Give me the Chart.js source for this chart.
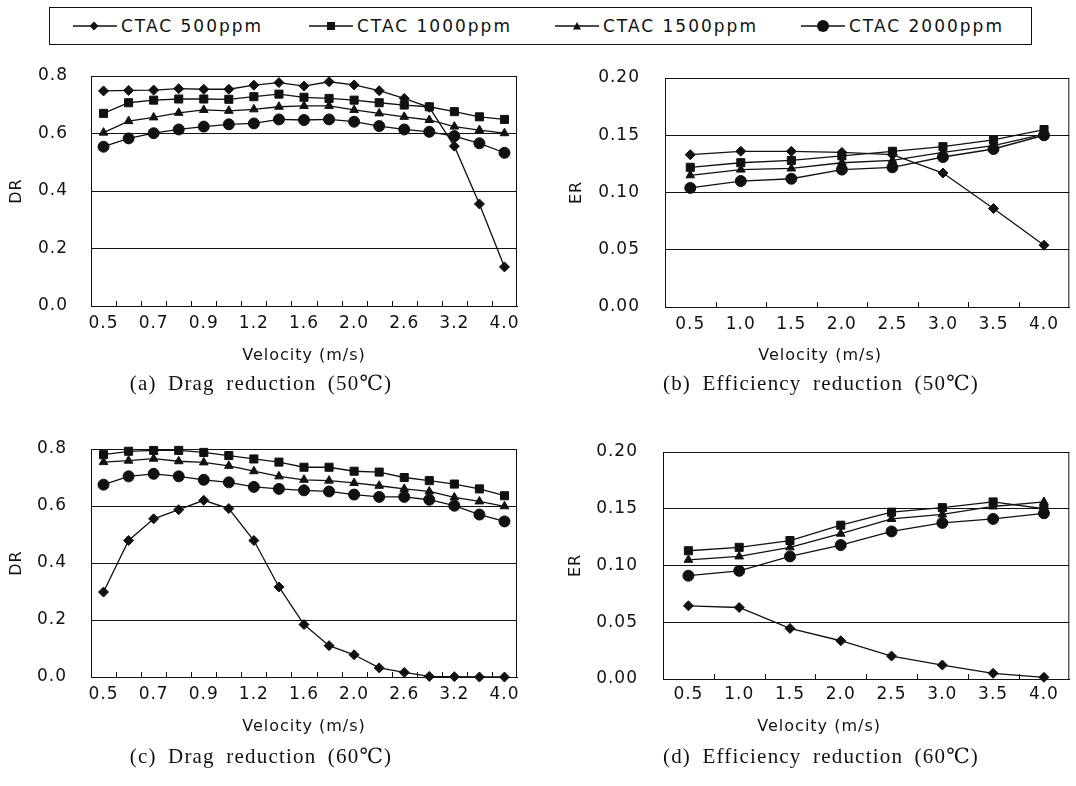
<!DOCTYPE html>
<html>
<head>
<meta charset="utf-8">
<script src="https://cdn.jsdelivr.net/npm/chart.js@4.4.1/dist/chart.umd.min.js"></script>
<style>
  body { margin: 0; background: #fff; width: 1076px; height: 786px; overflow: hidden; position: relative;
         font-family: "DejaVu Sans", sans-serif; color: #111; }
  canvas { position: absolute; }
  #legend { position: absolute; left: 49px; top: 7px; width: 981px; height: 36px; border: 1px solid #111; }
  .item { position: absolute; top: 0; height: 36px; display: flex; align-items: center;
          font-size: 17px; letter-spacing: 2px; white-space: nowrap; }
  .item svg { margin-right: 4px; }
  .cap { position: absolute; line-height: 26px; font-family: "Liberation Serif", "DejaVu Serif", serif;
         font-size: 21px; letter-spacing: 1.2px; word-spacing: 5px; white-space: nowrap;
         transform: translateX(-50%); }
</style>
</head>
<body>

<div id="legend">
  <div class="item" style="left:23px">
    <svg width="44" height="14"><line x1="0" y1="7" x2="44" y2="7" stroke="#111" stroke-width="1.3"/><polygon points="21,2.5 25.5,7 21,11.5 16.5,7" fill="#111"/></svg><span>CTAC 500ppm</span>
  </div>
  <div class="item" style="left:259px">
    <svg width="44" height="14"><line x1="0" y1="7" x2="44" y2="7" stroke="#111" stroke-width="1.3"/><rect x="18" y="3" width="8" height="8" fill="#111"/></svg><span>CTAC 1000ppm</span>
  </div>
  <div class="item" style="left:505px">
    <svg width="44" height="14"><line x1="0" y1="7" x2="44" y2="7" stroke="#111" stroke-width="1.3"/><polygon points="22,3 26,10.5 18,10.5" fill="#111"/></svg><span>CTAC 1500ppm</span>
  </div>
  <div class="item" style="left:751px">
    <svg width="44" height="14"><line x1="0" y1="7" x2="44" y2="7" stroke="#111" stroke-width="1.3"/><circle cx="22" cy="7" r="6" fill="#111"/></svg><span>CTAC 2000ppm</span>
  </div>
</div>

<canvas id="cA" width="535" height="320" style="left:0;top:60px"></canvas>
<canvas id="cB" width="536" height="320" style="left:540px;top:60px"></canvas>
<canvas id="cC" width="535" height="320" style="left:0;top:430px"></canvas>
<canvas id="cD" width="536" height="320" style="left:540px;top:430px"></canvas>

<div class="cap" style="left:261px;top:370px">(a) Drag reduction (50℃)</div>
<div class="cap" style="left:821px;top:370px">(b) Efficiency reduction (50℃)</div>
<div class="cap" style="left:261px;top:743px">(c) Drag reduction (60℃)</div>
<div class="cap" style="left:821px;top:743px">(d) Efficiency reduction (60℃)</div>

<script>
'use strict';

/* velocities (m/s) */
const velLow      = ['0.5','0.6','0.7','0.8','0.9','1.0','1.2','1.4','1.6','1.8','2.0','2.3','2.6','2.9','3.2','3.6','4.0'];
const velLowShown = ['0.5','0.7','0.9','1.2','1.6','2.0','2.6','3.2','4.0'];
const velHigh     = ['0.5','1.0','1.5','2.0','2.5','3.0','3.5','4.0'];

const seriesNames = ['CTAC 500ppm', 'CTAC 1000ppm', 'CTAC 1500ppm', 'CTAC 2000ppm'];

/* (a) DR, 50 C */
const dr50_500  = [0.748,0.750,0.751,0.756,0.754,0.754,0.768,0.777,0.765,0.780,0.769,0.749,0.722,0.691,0.556,0.355,0.136];
const dr50_1000 = [0.670,0.707,0.716,0.720,0.720,0.719,0.728,0.737,0.726,0.722,0.716,0.707,0.699,0.693,0.676,0.658,0.649];
const dr50_1500 = [0.603,0.643,0.656,0.672,0.682,0.679,0.684,0.693,0.696,0.696,0.682,0.670,0.658,0.647,0.624,0.612,0.601];
const dr50_2000 = [0.554,0.583,0.601,0.614,0.624,0.632,0.635,0.649,0.647,0.649,0.641,0.626,0.614,0.606,0.591,0.566,0.533];

/* (b) ER, 50 C */
const er50_500  = [0.133,0.136,0.136,0.135,0.133,0.117,0.086,0.054];
const er50_1000 = [0.122,0.126,0.128,0.132,0.136,0.140,0.146,0.155];
const er50_1500 = [0.115,0.120,0.121,0.126,0.128,0.135,0.141,0.151];
const er50_2000 = [0.104,0.110,0.112,0.120,0.122,0.131,0.138,0.150];

/* (c) DR, 60 C */
const dr60_500  = [0.298,0.479,0.555,0.587,0.620,0.591,0.479,0.316,0.184,0.110,0.078,0.032,0.016,0.002,0.001,0.000,0.000];
const dr60_1000 = [0.780,0.792,0.795,0.795,0.788,0.777,0.765,0.754,0.736,0.736,0.722,0.719,0.700,0.689,0.677,0.660,0.636];
const dr60_1500 = [0.754,0.759,0.766,0.757,0.753,0.741,0.722,0.704,0.692,0.689,0.681,0.671,0.660,0.651,0.630,0.616,0.599];
const dr60_2000 = [0.675,0.704,0.713,0.704,0.692,0.683,0.667,0.660,0.655,0.651,0.640,0.632,0.632,0.622,0.601,0.570,0.546];

/* (d) ER, 60 C */
const er60_500  = [0.0645,0.063,0.0446,0.0337,0.0202,0.0123,0.005,0.0015];
const er60_1000 = [0.113,0.116,0.122,0.1355,0.147,0.151,0.156,0.150];
const er60_1500 = [0.105,0.108,0.116,0.128,0.141,0.145,0.152,0.156];
const er60_2000 = [0.091,0.0953,0.108,0.118,0.130,0.1375,0.141,0.146];

const INK   = '#111';
const MARKS = ['rectRot', 'rect', 'triangle', 'circle'];
const RADII = [5, 5.7, 5, 5.5];
const FONT  = '"DejaVu Sans", sans-serif';

Chart.defaults.font.family = FONT;
Chart.defaults.font.size = 17;
Chart.defaults.color = INK;

// plot frame, inward ticks between categories, and the x title
const frame = {
  id: 'frame',
  beforeDraw(chart) { chart.ctx.letterSpacing = '1px'; },
  beforeDatasetsDraw(chart, args, opts) {
    const { ctx, chartArea: a, scales: { x } } = chart;
    ctx.save();
    ctx.strokeStyle = INK;
    ctx.lineWidth = 1;
    ctx.strokeRect(a.left + 0.5, a.top + 0.5, a.right - a.left - 1, a.bottom - a.top);
    for (let i = 0; i < x.ticks.length - 1; i++) {
      const px = Math.round((x.getPixelForTick(i) + x.getPixelForTick(i + 1)) / 2) + 0.5;
      ctx.beginPath();
      ctx.moveTo(px, a.bottom);
      ctx.lineTo(px, a.bottom - 5);
      ctx.stroke();
    }
    ctx.font = '16px ' + FONT;
    ctx.fillStyle = INK;
    ctx.textAlign = 'center';
    ctx.textBaseline = 'middle';
    ctx.fillText(opts.text, (a.left + a.right) / 2 + opts.shift, opts.y);
    ctx.restore();
  },
};

function drawChart(id, labels, shown, values, yMax, yStep, digits, yTitle, g) {
  return new Chart(document.getElementById(id), {
    type: 'line',
    data: {
      labels: labels,
      datasets: values.map((d, i) => ({
        label: seriesNames[i],
        data: d,
        borderColor: INK, backgroundColor: INK, borderWidth: 1.3,
        pointStyle: MARKS[i], pointRadius: RADII[i],
        pointBackgroundColor: INK, pointBorderColor: INK, pointBorderWidth: 1,
        tension: 0, clip: false,
      })),
    },
    options: {
      responsive: false, animation: false,
      layout: { padding: { top: g.top, right: g.right, left: 0, bottom: 0 } },
      plugins: {
        legend: { display: false }, tooltip: { enabled: false },
        frame: { text: 'Velocity (m/s)', shift: g.shift, y: g.xty },
      },
      scales: {
        x: {
          offset: true,
          grid: { display: false, drawTicks: false },
          border: { display: true, color: INK, width: 1 },
          ticks: {
            autoSkip: false, maxRotation: 0, minRotation: 0, padding: g.xtp,
            callback: function (v) {
              const l = this.getLabelForValue(v);
              return shown.includes(l) ? l : '';
            },
          },
          afterFit: s => { s.height = g.xh; s.paddingLeft = 0; s.paddingRight = 0; },
        },
        y: {
          min: 0, max: yMax,
          grid: { color: INK, lineWidth: 1, drawTicks: false },
          border: { display: true, color: INK, width: 1 },
          ticks: { stepSize: yStep, padding: g.ytp, callback: v => v.toFixed(digits) },
          title: { display: true, text: yTitle, font: { size: 16 }, padding: { top: g.ytt, bottom: 0 } },
          afterFit: s => { s.width = g.yw; s.paddingTop = 0; s.paddingBottom = 0; },
        },
      },
    },
    plugins: [frame],
  });
}

drawChart('cA', velLow, velLowShown, [dr50_500, dr50_1000, dr50_1500, dr50_2000], 0.8, 0.2, 1, 'DR',
  { top: 16, right: 18, yw: 91, xh: 74, ytp: 23, ytt: 7, xtp: 7, xty: 296, shift: 0 });
drawChart('cB', velHigh, velHigh, [er50_500, er50_1000, er50_1500, er50_2000], 0.2, 0.05, 2, 'ER',
  { top: 18, right: 2, yw: 125, xh: 73, ytp: 25, ytt: 27, xtp: 7, xty: 296, shift: -47 });
drawChart('cC', velLow, velLowShown, [dr60_500, dr60_1000, dr60_1500, dr60_2000], 0.8, 0.2, 1, 'DR',
  { top: 19, right: 18, yw: 91, xh: 73, ytp: 24, ytt: 7, xtp: 7, xty: 297, shift: 0 });
drawChart('cD', velHigh, velHigh, [er60_500, er60_1000, er60_1500, er60_2000], 0.2, 0.05, 2, 'ER',
  { top: 22, right: 3, yw: 123, xh: 71, ytp: 25, ytt: 26, xtp: 5, xty: 297, shift: -47 });
</script>
</body>
</html>
